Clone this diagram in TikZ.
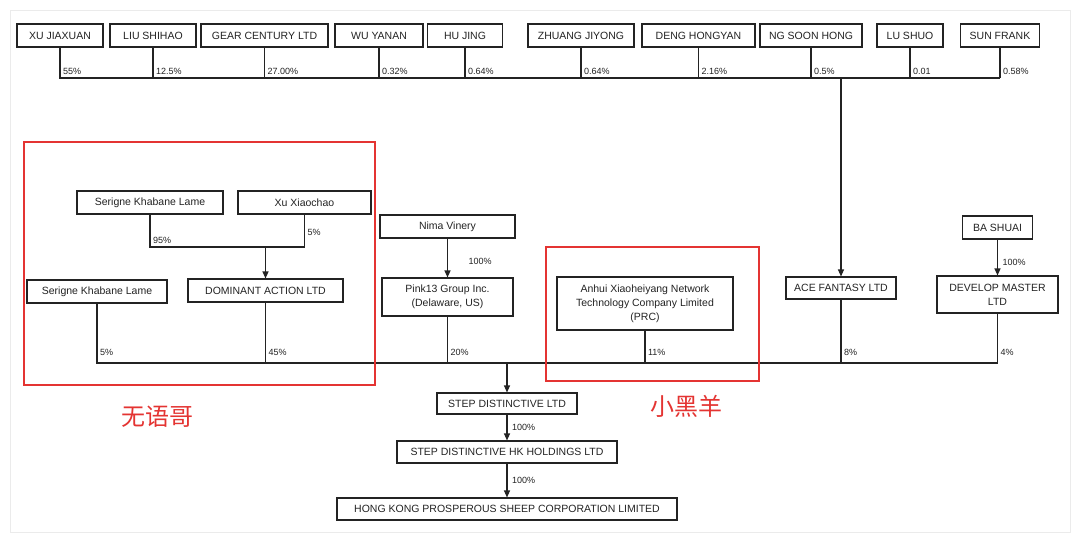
\documentclass[tikz,border=0pt]{standalone}
\usepackage{fontspec}
\setmainfont{Liberation Sans}
\newfontfamily\cjk{Noto Sans CJK SC}
\usepackage{xcolor}
\usetikzlibrary{arrows.meta,positioning,calc}
\definecolor{markred}{RGB}{228,52,50}
\definecolor{inkgray}{RGB}{35,35,35}

\begin{document}
\begin{tikzpicture}[
  x=1pt, y=-1pt,
  box/.style={draw=inkgray, line width=1.1pt, fill=white, inner sep=2pt,
    minimum height=23pt, font=\fontsize{10.5}{14}\selectfont, text=inkgray,
    align=center},
  pct/.style={font=\fontsize{9}{10}\selectfont, text=inkgray, inner sep=2.5pt,
    above right},
  link/.style={draw=inkgray, line width=1.1pt},
  owns/.style={link, -{Triangle[length=7pt,width=6pt]}},
  redbox/.style={draw=markred, line width=1.8pt},
  redtag/.style={text=markred, font=\cjk\fontsize{24}{26}\selectfont}
]
\useasboundingbox (0,0) rectangle (1080,541);
\draw[black!8, fill=white] (10,10) rectangle (1070,532);

% Top shareholders
\node[box, minimum width=86pt] (xu) at (60,35.5) {XU JIAXUAN};
\node[box, minimum width=86pt] (liu) at (153,35.5) {LIU SHIHAO};
\node[box, minimum width=127pt] (gear) at (264.5,35.5) {GEAR CENTURY LTD};
\node[box, minimum width=88pt] (wu) at (379,35.5) {WU YANAN};
\node[box, minimum width=75pt] (hu) at (465,35.5) {HU JING};
\node[box, minimum width=106pt] (zhuang) at (581,35.5) {ZHUANG JIYONG};
\node[box, minimum width=113pt] (deng) at (698.5,35.5) {DENG HONGYAN};
\node[box, minimum width=102pt] (ng) at (811,35.5) {NG SOON HONG};
\node[box, minimum width=66pt] (lu) at (910,35.5) {LU SHUO};
\node[box, minimum width=79pt] (sun) at (1000,35.5) {SUN FRANK};

\coordinate (busTop) at (1000,78);
\foreach \who/\share in {xu/55\%, liu/12.5\%, gear/27.00\%, wu/0.32\%,
    hu/0.64\%, zhuang/0.64\%, deng/2.16\%, ng/0.5\%, lu/0.01, sun/0.58\%}
  \draw[link] (\who.south) |- (busTop) node[pct, pos=0.5] {\share};

% Middle layer
\node[box, minimum width=110pt, minimum height=22pt] (ace) at (841,288) {ACE FANTASY LTD};
\draw[owns] (ace.north |- busTop) -- (ace.north);

\node[box, minimum width=146pt] (serA) at (150,202.5) {Serigne Khabane Lame};
\node[box, minimum width=133pt] (xux) at (304.5,202.5) {Xu Xiaochao};
\node[box, minimum width=155pt] (dom) at (265.5,290.5) {DOMINANT ACTION LTD};
\node[box, minimum width=140pt] (serB) at (97,291.5) {Serigne Khabane Lame};
\coordinate (join) at (304.5,247);
\draw[link] (serA.south) |- (join) node[pct, pos=0.5] {95\%};
\draw[link] (xux.south) -- (join) node[pct, pos=0.75] {5\%};
\draw[owns] (dom.north |- join) -- (dom.north);

\node[box, minimum width=135pt] (nima) at (447.5,226.5) {Nima Vinery};
\node[box, minimum width=131pt, minimum height=38pt] (pink) at (447.5,297) {Pink13 Group Inc.\\(Delaware, US)};
\draw[owns] (nima.south) -- (pink.north) node[pct, pos=0.6, anchor=west, xshift=18pt] {100\%};

\node[box, minimum width=176pt, minimum height=53pt] (anhui) at (645,303.5)
  {Anhui Xiaoheiyang Network\\Technology Company Limited\\(PRC)};

\node[box, minimum width=70pt] (ba) at (997.5,227.5) {BA SHUAI};
\node[box, minimum width=121pt, minimum height=37pt] (dev) at (997.5,294.5) {DEVELOP MASTER\\LTD};
\draw[owns] (ba.south) -- (dev.north) node[pct, pos=0.65, anchor=west, xshift=2pt] {100\%};

% Lower bus into STEP
\coordinate (busLow) at (997.5,363);
\foreach \who/\share in {serB/5\%, dom/45\%, pink/20\%, anhui/11\%, ace/8\%, dev/4\%}
  \draw[link] (\who.south) |- (busLow) node[pct, pos=0.5, yshift=4pt] {\share};

% Bottom chain
\node[box, minimum width=140pt, minimum height=21pt] (step) at (507,403.5) {STEP DISTINCTIVE LTD};
\node[box, minimum width=220pt, minimum height=22pt] (stephk) at (507,452) {STEP DISTINCTIVE HK HOLDINGS LTD};
\node[box, minimum width=340pt, minimum height=22pt] (hkps) at (507,509) {HONG KONG PROSPEROUS SHEEP CORPORATION LIMITED};
\draw[owns] (step.north |- busLow) -- (step.north);
\draw[owns] (step.south) -- (stephk.north) node[pct, midway, anchor=west, xshift=2pt] {100\%};
\draw[owns] (stephk.south) -- (hkps.north) node[pct, midway, anchor=west, xshift=2pt] {100\%};

% Red highlights
\draw[redbox] (24,142) rectangle (375,385);
\draw[redbox] (546,247) rectangle (759,381);
\node[redtag] (tagA) at (157,417) {无语哥};
\node[redtag] (tagB) at (686,406) {小黑羊};

\end{tikzpicture}
\end{document}
